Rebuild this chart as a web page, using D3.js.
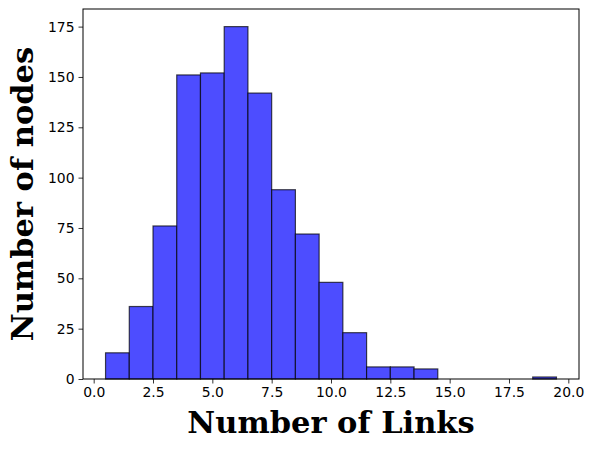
<!DOCTYPE html>
<html>
<head>
<meta charset="utf-8">
<script src="https://cdn.jsdelivr.net/npm/d3@7"></script>
<style>
  body { margin: 0; background: #fff; }
  .tick text { font-family: "DejaVu Sans", sans-serif; font-size: 13.9px; fill: #000; }
  .axis-label { font-family: "DejaVu Serif", serif; font-weight: bold; font-size: 30.5px; }
</style>
</head>
<body>
<script>
// histogram bins: left edges and counts
var binStarts = [0.5, 1.5, 2.5, 3.5, 4.5, 5.5, 6.5, 7.5, 8.5, 9.5, 10.5, 11.5, 12.5, 13.5, 14.5, 15.5, 16.5, 17.5, 18.5];
var counts    = [13, 36, 76, 151, 152, 175, 142, 94, 72, 48, 23, 6, 6, 5, 0, 0, 0, 0, 1];
var xTicks = [0, 2.5, 5, 7.5, 10, 12.5, 15, 17.5, 20];
var yTicks = [0, 25, 50, 75, 100, 125, 150, 175];

var width = 593, height = 449;
var margin = { top: 9, right: 14, bottom: 70, left: 83 };

var svg = d3.select('body')
  .append('svg')
  .attr('width', width)
  .attr('height', height);

var x = d3.scaleLinear()
  .domain([-0.45, 20.45])
  .range([margin.left, width - margin.right]);

var y = d3.scaleLinear()
  .domain([0, 183.75])
  .range([height - margin.bottom, margin.top]);

svg.append('g')
  .selectAll('rect')
  .data(counts)
  .enter()
    .append('rect')
      .attr('x', function(d, i){ return x(binStarts[i]); })
      .attr('width', function(d, i){ return x(binStarts[i] + 1) - x(binStarts[i]); })
      .attr('y', function(d){ return y(d); })
      .attr('height', function(d){ return y(0) - y(d); })
      .attr('fill', 'rgb(77,77,255)')
      .attr('stroke', 'rgba(0,0,0,0.7)')
      .attr('stroke-width', 1.2);

// axes
svg.append('g')
  .attr('transform', 'translate(0,' + (height - margin.bottom) + ')')
  .call(d3.axisBottom(x).tickValues(xTicks).tickFormat(d3.format('.1f')).tickSizeOuter(0).tickSize(4.5).tickPadding(4));

svg.append('g')
  .attr('transform', 'translate(' + margin.left + ',0)')
  .call(d3.axisLeft(y).tickValues(yTicks).tickSizeOuter(0).tickSize(4.5).tickPadding(4));

svg.selectAll('.domain').remove();
svg.selectAll('.tick line').attr('stroke', '#000').attr('stroke-width', 0.8);

// frame
svg.append('rect')
  .attr('x', margin.left)
  .attr('y', margin.top)
  .attr('width', width - margin.left - margin.right)
  .attr('height', height - margin.top - margin.bottom)
  .attr('fill', 'none')
  .attr('stroke', '#000')
  .attr('stroke-width', 1);

// labels
svg.append('text')
  .attr('class', 'axis-label')
  .attr('x', (margin.left + width - margin.right) / 2)
  .attr('y', 433)
  .attr('text-anchor', 'middle')
  .text('Number of Links');

svg.append('text')
  .attr('class', 'axis-label')
  .attr('transform', 'translate(33,' + ((margin.top + height - margin.bottom) / 2) + ') rotate(-90)')
  .attr('text-anchor', 'middle')
  .text('Number of nodes');
</script>
</body>
</html>
